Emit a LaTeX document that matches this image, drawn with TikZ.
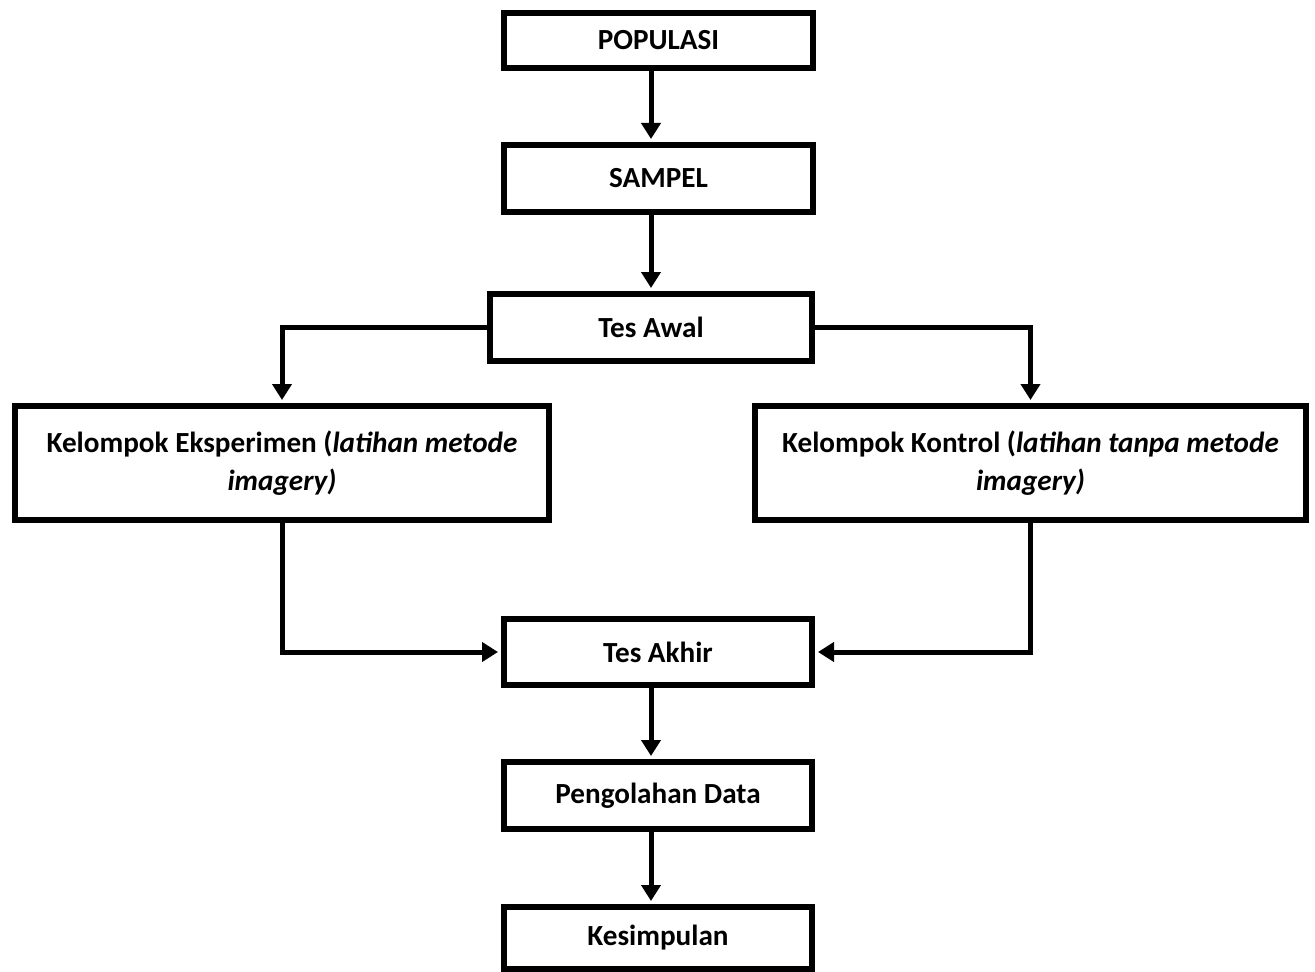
\documentclass[tikz,border=0pt]{standalone}
\usepackage{fontspec}
\setmainfont{Carlito}
\usetikzlibrary{arrows.meta}

\begin{document}
\begin{tikzpicture}[x=0.1mm,y=-0.1mm,
  kotak/.style={draw,line width=0.6mm,align=center,inner sep=0pt,
    font=\fontsize{8.3}{10.8}\selectfont\bfseries},
  panah/.style={line width=0.5mm,shorten >=0.3mm,
    -{Triangle[length=1.6mm,width=1.9mm]}}]
\useasboundingbox (0,0) rectangle (1315,972);
\node[kotak,minimum width=30.9mm,minimum height=5.5mm] (pop) at (658.5,40.5) {POPULASI};
\node[kotak,minimum width=30.9mm,minimum height=6.7mm] (sam) at (658.5,178.5) {SAMPEL};
\node[kotak,minimum width=32.2mm,minimum height=6.7mm] (awal) at (651,327.5) {Tes Awal};
\node[kotak,minimum width=53.4mm,minimum height=11.4mm] (eks) at (282,463)
  {Kelompok Eksperimen (\textit{latihan metode}\\\textit{imagery)}};
\node[kotak,minimum width=55.1mm,minimum height=11.4mm] (kon) at (1030.5,463)
  {Kelompok Kontrol (\textit{latihan tanpa metode}\\\textit{imagery)}};
\node[kotak,minimum width=30.8mm,minimum height=6.6mm] (akhir) at (658,652) {Tes Akhir};
\node[kotak,minimum width=30.8mm,minimum height=6.7mm] (olah) at (658,795.5) {Pengolahan Data};
\node[kotak,minimum width=30.8mm,minimum height=6.2mm] (simp) at (658,938) {Kesimpulan};

\draw[panah] (pop.south -| awal.north) -- (sam.north -| awal.north);
\draw[panah] (sam.south -| awal.north) -- (awal.north);
\draw[panah] (awal.west) -| (eks.north);
\draw[panah] (awal.east) -| (kon.north);
\draw[panah] (eks.south) |- (akhir.west);
\draw[panah] (kon.south) |- (akhir.east);
\draw[panah] (akhir.south -| awal.north) -- (olah.north -| awal.north);
\draw[panah] (olah.south -| awal.north) -- (simp.north -| awal.north);
\end{tikzpicture}
\end{document}
